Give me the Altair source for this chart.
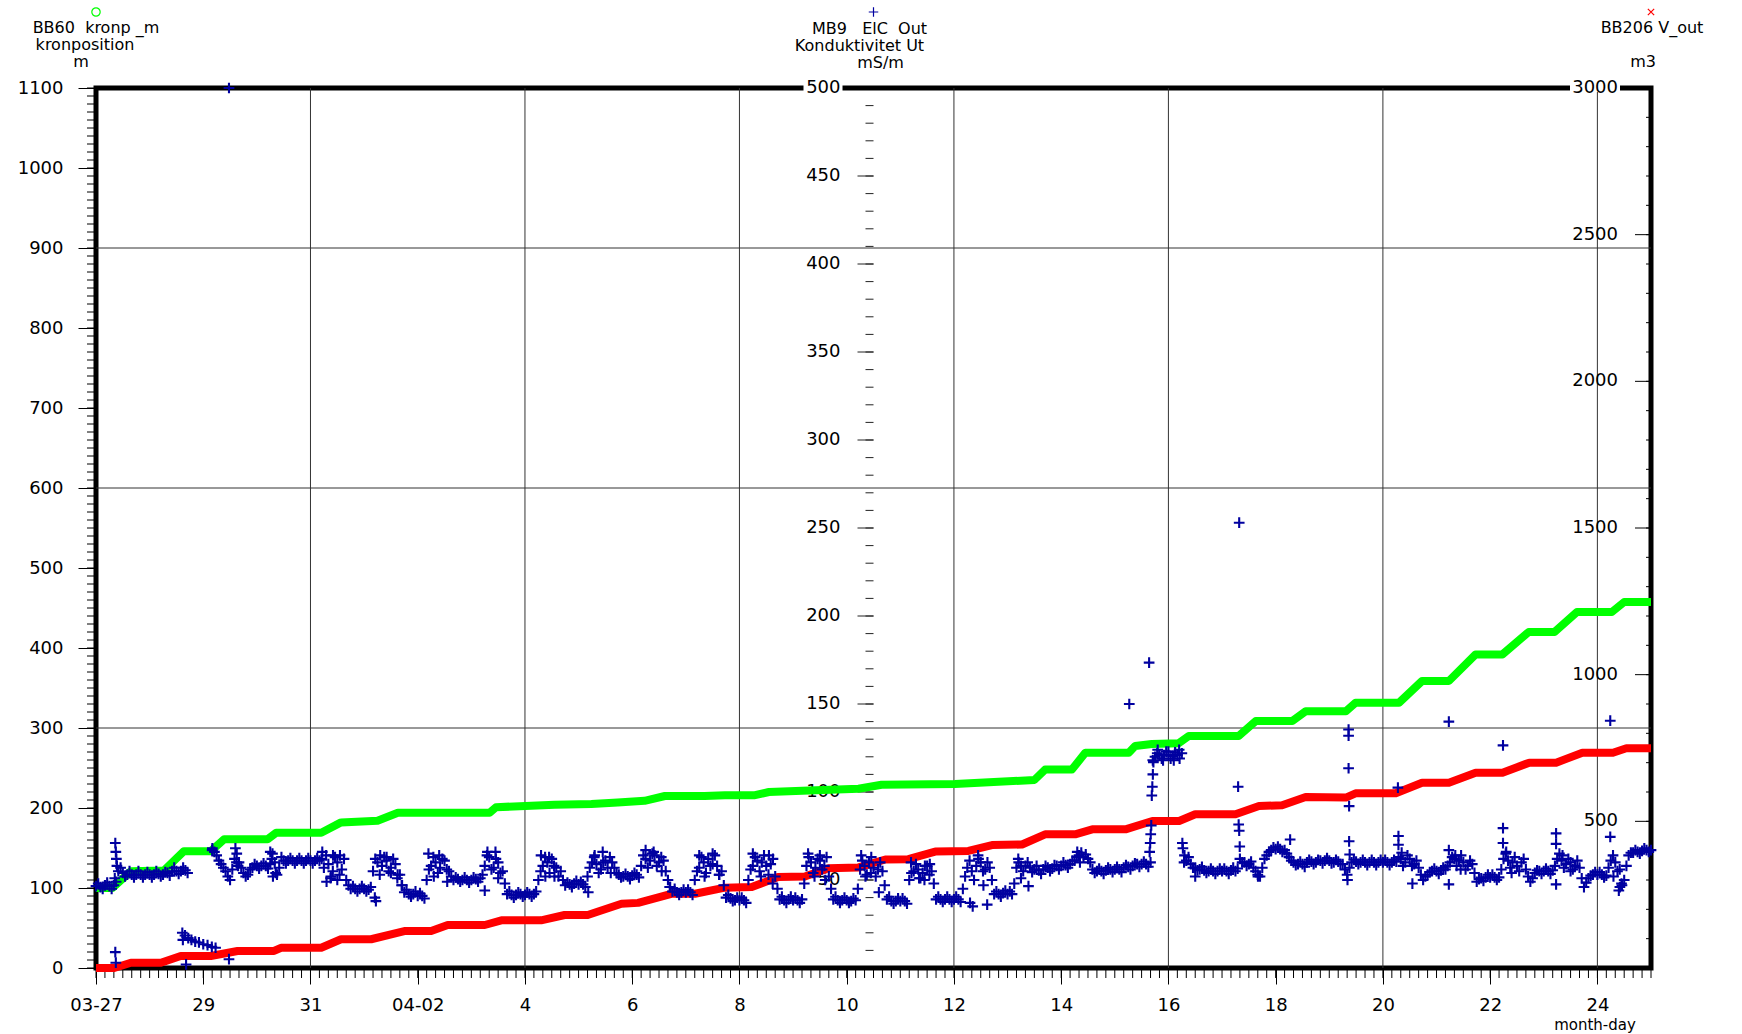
import altair as alt
import pandas as pd

# ---------------------------------------------------------------------------
# Data: time is given in days after 27 March 00:00 (x axis runs to 25 April)
# ---------------------------------------------------------------------------

# BB60 kronp_m  -  crown position, m (left axis)
green_day = [0, 0.305, 0.65, 1.27, 1.64, 2.14, 2.39, 3.2, 3.36, 4.2, 4.57, 5.25,
             5.63, 7.34, 7.46, 8.55, 9.24, 9.73, 10.23, 10.61, 11.35, 11.73,
             12.29, 12.55, 13.3, 14.22, 14.65, 16.02, 17.5, 17.7, 18.2, 18.45,
             19.26, 19.38, 19.69, 20.19, 20.38, 21.31, 21.63, 22.31, 22.56,
             23.31, 23.49, 24.3, 24.73, 25.23, 25.73, 26.23, 26.72, 27.2,
             27.62, 28.27, 28.5, 29]
green_m = [100, 100, 121, 122, 146, 146, 161, 161, 169, 169, 182, 184,
           194, 194, 201, 204, 205, 207, 209, 215, 215, 216,
           216, 220, 222, 224, 229, 230, 235, 248, 248, 269,
           269, 277.5, 280, 281, 290, 290, 308.75, 308.75, 321,
           321, 331.6, 331.6, 358.75, 358.75, 392, 392, 420, 420,
           445, 445, 457.5, 457.5]

# BB206 V_out  -  volume, m3 (right axis)
red_day = [0, 0.34, 0.65, 1.21, 1.58, 2.14, 2.64, 3.32, 3.45, 4.2, 4.57, 5.13,
           5.75, 6.25, 6.56, 7.25, 7.56, 8.3, 8.74, 9.17, 9.8, 10.11, 10.73,
           11.17, 11.73, 12.23, 12.72, 13.22, 13.66, 14.22, 14.72, 15.15,
           15.65, 16.27, 16.71, 17.27, 17.7, 18.26, 18.58, 19.2, 19.7, 20.2,
           20.5, 21.25, 21.69, 22.12, 22.56, 23.31, 23.49, 24.24, 24.73,
           25.23, 25.73, 26.23, 26.73, 27.23, 27.72, 28.29, 28.54, 29]
red_m3 = [0, 0, 18, 18, 41, 41, 58, 58, 69, 69, 98, 98,
          126, 126, 146.6, 146.6, 162.5, 162.5, 180.7, 180.7, 219, 222, 253,
          253, 274, 276, 310, 312, 340, 343, 370, 371,
          397, 399, 419, 421, 455.7, 455.7, 472.8, 472.8, 501, 501,
          524, 524, 552, 555, 583, 581, 595.5, 595.5, 631.8,
          631.8, 666, 666, 700, 700, 734, 734, 749, 749]

# MB9 ElC Out  -  conductivity, mS/m (centre axis); hourly readings,
# one list per week (24 per day), None where nothing was logged
cond_week1 = [
    # 27 March
    46.5, 48, 46, 45, 47, 48.5, 46.5, 45, 47, 49, 55, 57,
    54, 52, 53, 55, 53, 51.5, 53, 55, 53, 51.5, 53, 54.5,
    # 28 March
    53, 51.5, 53, 55, 53.5, 52, 53, 54.5, 54, 52.5, 55, 57,
    55, 53.5, 55, 57, 55.5, 54, None, None, None, None, None, None,
    # 29 March
    None, None, None, None, 67, 66, 64, 61, 59, 57, 55, 52,
    50, 56, 62, 65, 60, 57, 54, 52, 53, 56, 57, 59,
    # 30 March
    58, 56.5, 58, 59.5, 58, 56.5, 59, 65, 60, 53, 57, 63,
    61, 59.5, 61, 62.5, 61, 59.5, 61, 62.5, 61, 59.5, 61, 62.5,
    # 31 March
    61, 59.5, 61, 62.5, 61, 62, 57, 64, 59, 51, 55, 63,
    60, 53, 56, 62, 50, 47, 45, 46.5, 45, 43.5, 45, 46.5,
    # 1 April
    45, 43.5, 44.5, 46, 55, 62, 60, 53, 58, 63, 61, 55,
    57, 62, 59, 53, 53, 47, 43, 44.5, 42, 40.5, 42, 43.5,
    # 2 April
    41, 42.5, 41, 39.5, 50, 56, 58, 63, 60, 54, 57, 62,
    61, 56, 55, 52, 50, 51.5, 50.5, 49, 50, 51.5, 50, 48.5,
]
cond_week2 = [
    # 3 April
    50, 51.5, 50.5, 49, 51, 53, 58, 64, 63, 56, 57, 62,
    60, 54, 55, 48, 42, 43.5, 41.5, 40, 41.5, 43, 42, 40.5,
    # 4 April
    41.5, 43, 42, 40.5, 42, 43.5, 50, 55, 58, 63, 60, 54,
    62, 58, 57, 52, 55, 50, 47, 48.5, 47.5, 46, 48, 49.5,
    # 5 April
    47.5, 49, 47.5, 46, 52, 57, 60, 63, 59, 54, 56, 60,
    61, 57, 63, 60, 57, 54, 53, 51.5, 52, 53.5, 52, 50.5,
    # 6 April
    52.5, 54, 53, 51.5, 58, 64, 62, 57, 61, 65, 64, 58,
    60, 63, 61, 55, 50, 46, 43.5, 45, 43, 41.5, 43, 44.5,
    # 7 April
    43, 44.5, 43, 41.5, 50, 55, 57, 63, 60, 54, 62, 58,
    59, 64, 58, 53, 55, 47, 40, 41.5, 39.5, 38, 38.5, 40,
    # 8 April
    38.5, 40, 38.5, 37, 50, 56, 58, 63, 61, 55, 60, 64,
    58, 53, 59, 62, 52, 45, 39, 40.5, 38.5, 37, 39, 40.5,
    # 9 April
    38.5, 40, 38.5, 37, 39, 48, 58, 63, 60, 54, 57, 62,
    61, 56, 58, 63, 52, 45, 39, 40.5, 38.5, 37, 38.5, 40,
]
cond_week3 = [
    # 10 April
    38.5, 37, 38, 39.5, 38.5, 45, 56, 61, 58, 53, 60, 63,
    57, 52, 56, 60, 55, 47, 39, 40.5, 38, 36.5, 38, 39.5,
    # 11 April
    38, 39.5, 38, 36.5, 50, 54, 55, 59, 56, 51, 54, 58,
    58, 53, 55, 48, 39, 40.5, 39, 37.5, 39, 40.5, 39, 37.5,
    # 12 April
    39, 40.5, 39, 37.5, 45, 52, 57, 61, 55, 50, 58, 62,
    60, 55, 56, 60, 57, 50, 42, 43.5, 42, 40.5, 42.5, 44,
    # 13 April
    42, 43.5, 42, 48, 57, 60, 58, 55, 58, 60, 57, 54.5,
    56, 58, 55.5, 53.5, 56, 58, 57, 55, 56.5, 58.5, 58, 56,
    # 14 April
    58, 60, 58.5, 57, 59, 61, 61, 63, 64, 65.5, 63, 64.5,
    62, 60, 56, 54, 55, 56.5, 55, 53.5, 55.5, 57, 56, 54.5,
    # 15 April
    56, 57.5, 56, 54.5, 57, 58.5, 57.5, 56, 58, 59.5, 59, 57.5,
    59, 60.5, 59, 57.5, 60, 118, 120, 122, 121, 119, 121, 123,
    # 16 April
    121, 119, 120.5, 122.5, 121, 119, 122, 60, 61, 63, 59, 57,
    57, 55.5, 56, 57.5, 55.5, 54, 55, 56.5, 55, 53.5, 55, 56.5,
]
cond_week4 = [
    # 17 April
    55, 56.5, 55, 53.5, 55.5, 57, 55, 56.5, 62, 60, 60, 58,
    59, 60.5, 57, 55, 53, 52, 57, 62, 64, 66, 67, 68.5,
    # 18 April
    67.5, 69, 67.5, 66, 67, 65, 63, 61, 60, 58.5, 59, 60.5,
    59, 57.5, 60, 61.5, 60.5, 59, 60, 61.5, 61, 59.5, 61, 62.5,
    # 19 April
    61, 59.5, 60, 61.5, 60.5, 59, 59, 56, 53, 57, 60, 61.5,
    60.5, 59, 60, 61.5, 60, 58.5, 60, 61.5, 60, 58.5, 60, 61.5,
    # 20 April
    60, 61.5, 60, 58.5, 60, 61.5, 60.5, 63, 62, 58, 60, 64,
    62, 58, 59, 61, 57, 53, 50, 52, 53, 54.5, 55, 56.5,
    # 21 April
    55, 53.5, 55.5, 57, 56, 58, 60, 63, 62, 58, 61, 64,
    60, 56, 58, 61, 59, 54, 49, 50.5, 51, 49.5, 51.5, 53,
    # 22 April
    51.5, 53, 51.5, 50, 51.5, 56, 62, 65, 61, 57, 60, 63,
    58, 55, 60, 62, 56, 52, 49, 51, 54, 55.5, 55, 53.5,
    # 23 April
    55, 56.5, 55, 53.5, 55.5, 58, 62, 65, 61, 57, 59, 62,
    60, 56, 58, 61, 57, 51, 46, 48.5, 51, 52.5, 53, 54.5,
    # 24 April
    53, 54.5, 53, 51.5, 52.5, 57, 61, 64, 60, 55, 56, 47,
    50, 58, 64, 65.5, 65.5, 67, 66, 65, 66.5, 68, 67, 66,
]
cond_last = 67  # reading at 25 April 00:00

# Irregular conductivity readings: spikes, the low run on 28-29 March, outliers
cond_extra_day = [
    0.35, 0.36, 0.37, 0.38, 0.39, 0.36, 0.37,
    1.61, 1.62, 1.66, 1.72, 1.78, 1.85, 1.92, 2.0, 2.08, 2.16, 2.23,
    1.68, 2.48, 2.48,
    2.17, 2.6, 2.62, 2.65,
    3.25, 3.28, 3.3, 3.35,
    4.22, 4.3, 4.38, 4.42, 4.5, 4.55,
    5.2, 5.22, 5.3, 5.42, 5.5, 5.62, 5.7,
    6.2, 6.3, 6.4, 6.55,
    7.25, 7.3, 7.45, 7.5,
    8.3, 8.38, 8.45, 8.55,
    9.18, 9.3, 9.45, 9.6,
    10.25, 10.4, 10.55, 10.7,
    11.25, 11.35, 11.5, 11.62,
    12.25, 12.4, 12.55, 12.62,
    13.28, 13.4, 13.5, 13.6,
    14.27, 14.35, 14.45, 14.6,
    15.2, 15.35, 15.45, 15.55,
    16.3, 16.35, 16.45, 16.55, 16.62,
    17.2, 17.25, 17.39,
    18.3, 18.35,
    19.27, 19.64,
    19.65, 19.66, 19.67, 19.68, 19.69, 19.7, 19.71, 19.72,
    19.8, 19.9, 20.0, 20.1, 20.2,
    20.26, 20.27, 20.3, 20.5,
    21.3, 21.31, 21.32, 21.33, 21.32, 21.67,
    22.27,
    23.34, 23.36, 23.36, 23.36, 23.37, 23.37, 23.38,
    24.28, 24.29, 24.29, 24.35, 24.55,
    25.23, 25.23, 25.23, 25.35, 25.45,
    26.24, 26.24, 26.24, 26.3, 26.4,
    27.23, 27.23, 27.23, 27.35, 27.5,
    28.24, 28.24, 28.3, 28.4, 28.42, 28.45,
]
cond_extra_val = [
    51, 71, 66, 62, 58, 9, 3,
    20, 16, 18.5, 17, 16, 15, 14.5, 13.5, 13, 12, 11.5,
    2, 5, 500,
    68, 68, 60, 58,
    66, 62, 52, 54,
    66, 49, 52, 64, 50, 64,
    40, 38, 64, 63, 54, 51, 47,
    65, 52, 64, 49,
    44, 66, 66, 51,
    64, 52, 63, 52,
    43, 64, 66, 54,
    67, 66, 55, 46,
    64, 52, 65, 53,
    65, 52, 64, 48,
    65, 52, 64, 50,
    64, 52, 54, 43,
    60, 51, 50, 59,
    37, 35, 64, 47, 36,
    62, 51, 46.5,
    66, 60,
    150, 173.5,
    66, 71, 76, 81, 98, 103, 110, 117,
    124, 118, 123, 118, 124,
    71, 68, 64, 52,
    103, 81.5, 78, 69, 253, 52,
    73,
    50, 135.5, 132, 113.5, 92, 72, 64.5,
    102.5, 75, 70, 65.5, 48,
    140, 67, 47.5, 64, 56,
    126.5, 79.5, 71, 66, 54,
    76.5, 70.5, 47.5, 64, 55,
    140.5, 74.5, 52, 44, 46, 48,
]

# Axis tick values and labels
x_tick_days = list(range(0, 29, 2))
x_tick_labels = ["03-27", "29", "31", "04-02", "4", "6", "8", "10", "12",
                 "14", "16", "18", "20", "22", "24"]
x_grid_days = [4, 8, 12, 16, 20, 24, 28]
left_grid_m = [300, 600, 900]
left_labels = list(range(0, 1101, 100))
mid_labels = list(range(50, 501, 50))
right_labels = list(range(500, 3001, 500))

# ---------------------------------------------------------------------------
# Tables
# ---------------------------------------------------------------------------
green_df = pd.DataFrame({"day": green_day, "m": green_m})
red_df = pd.DataFrame({"day": red_day, "m3": red_m3})

rows = []
for week, vals in enumerate([cond_week1, cond_week2, cond_week3, cond_week4]):
    for i, v in enumerate(vals):
        if v is not None:
            rows.append({"day": 7 * week + i / 24, "ms": v})
rows.append({"day": 29, "ms": cond_last})
for d, v in zip(cond_extra_day, cond_extra_val):
    rows.append({"day": d, "ms": v})
cond_df = pd.DataFrame(rows)

one = pd.DataFrame({"k": [0]})

# ---------------------------------------------------------------------------
# Geometry and styles
# ---------------------------------------------------------------------------
W, H = 1555, 880
MID = W / 2
FONT = "DejaVu Sans"
FS = 18          # tick labels
FS_HEAD = 16     # series headers
GREEN, RED, BLUE = "#00ff00", "#ff0000", "#0000a0"
PLUS = "M-1,0L1,0M0,-1L0,1"
CROSS = "M-1,-1L1,1M-1,1L1,-1"

xs = alt.Scale(domain=[0, 29], nice=False, zero=False)
ys_left = alt.Scale(domain=[0, 1100], nice=False, zero=False)
ys_mid = alt.Scale(domain=[0, 500], nice=False, zero=False)
ys_right = alt.Scale(domain=[0, 3000], nice=False, zero=False)

label_expr = "[" + ",".join(f"'{s}'" for s in x_tick_labels) + "][round(datum.value / 2)]"
x_axis = alt.Axis(values=x_tick_days, labelExpr=label_expr, tickSize=16,
                  tickColor="black", tickWidth=1, labelPadding=26,
                  labelBaseline="alphabetic", labelFont=FONT, labelFontSize=FS,
                  labelColor="black", labelFlush=False, labelOverlap=False,
                  domain=False, grid=False, title=None)
left_axis = alt.Axis(orient="left", values=left_labels, format="d", tickSize=18,
                     tickColor="black", tickWidth=1, labelPadding=15,
                     labelFont=FONT, labelFontSize=FS, labelColor="black",
                     labelOverlap=False, domain=False, grid=False, title=None)


def xq():
    return alt.X("day:Q", scale=xs, axis=x_axis)


# Grid
grid_v = alt.Chart(pd.DataFrame({"day": x_grid_days})).mark_rule(
    color="#333333", strokeWidth=1).encode(x=xq(), y=alt.value(0), y2=alt.value(H))
grid_h = alt.Chart(pd.DataFrame({"m": left_grid_m})).mark_rule(
    color="#333333", strokeWidth=1).encode(
    y=alt.Y("m:Q", scale=ys_left, axis=None), x=alt.value(0), x2=alt.value(W))

# Minor ticks: every 4 hours on x, every 10 m on the left
x_minor = alt.Chart(pd.DataFrame({"day": [i / 6 for i in range(29 * 6 + 1)]})).mark_rule(
    color="black", strokeWidth=1).encode(x=xq(), y=alt.value(H), y2=alt.value(H + 10))
left_minor = alt.Chart(pd.DataFrame({"m": list(range(0, 1101, 10))})).mark_rule(
    color="black", strokeWidth=1).encode(
    y=alt.Y("m:Q", scale=ys_left, axis=None), x=alt.value(-9), x2=alt.value(0))

# Centre axis (mS/m)
mid_minor = alt.Chart(pd.DataFrame({"ms": list(range(10, 500, 10))})).mark_rule(
    color="#222222", strokeWidth=1).encode(
    y=alt.Y("ms:Q", scale=ys_mid, axis=None), x=alt.value(MID - 8), x2=alt.value(MID))
mid_major = alt.Chart(pd.DataFrame({"ms": mid_labels[:-1]})).mark_rule(
    color="#222222", strokeWidth=1).encode(
    y=alt.Y("ms:Q", scale=ys_mid, axis=None), x=alt.value(MID - 16), x2=alt.value(MID))
mid_gap = alt.Chart(one).mark_rect(color="white").encode(
    x=alt.value(MID - 70), x2=alt.value(MID - 31), y=alt.value(-4), y2=alt.value(4))
mid_text = alt.Chart(pd.DataFrame({"ms": mid_labels})).mark_text(
    align="right", baseline="middle", font=FONT, fontSize=FS, color="black").encode(
    y=alt.Y("ms:Q", scale=ys_mid, axis=None), x=alt.value(MID - 33), text="ms:Q")

# Right axis (m3), drawn inside the frame
right_minor = alt.Chart(pd.DataFrame({"m3": list(range(100, 3000, 100))})).mark_rule(
    color="black", strokeWidth=1).encode(
    y=alt.Y("m3:Q", scale=ys_right, axis=None), x=alt.value(W - 5), x2=alt.value(W))
right_major = alt.Chart(pd.DataFrame({"m3": right_labels[:-1]})).mark_rule(
    color="black", strokeWidth=1).encode(
    y=alt.Y("m3:Q", scale=ys_right, axis=None), x=alt.value(W - 16), x2=alt.value(W))
right_gap = alt.Chart(one).mark_rect(color="white").encode(
    x=alt.value(W - 81), x2=alt.value(W - 31), y=alt.value(-4), y2=alt.value(4))
right_text = alt.Chart(pd.DataFrame({"m3": right_labels})).mark_text(
    align="right", baseline="middle", font=FONT, fontSize=FS, color="black").encode(
    y=alt.Y("m3:Q", scale=ys_right, axis=None), x=alt.value(W - 33), text="m3:Q")

# Series
green = alt.Chart(green_df).mark_line(
    color=GREEN, strokeWidth=8, strokeJoin="round").encode(
    x=xq(), y=alt.Y("m:Q", scale=ys_left, axis=left_axis))
red = alt.Chart(red_df).mark_line(
    color=RED, strokeWidth=8, strokeJoin="round").encode(
    x=xq(), y=alt.Y("m3:Q", scale=ys_right, axis=None))
blue = alt.Chart(cond_df).mark_point(
    shape=PLUS, filled=False, size=115, strokeWidth=2.1, color=BLUE, opacity=1).encode(
    x=xq(), y=alt.Y("ms:Q", scale=ys_mid, axis=None))


# Series headers above the frame
def label(text, x, y, size=FS_HEAD):
    return alt.Chart(one).mark_text(
        text=text, align="center", baseline="alphabetic", font=FONT, fontSize=size,
        color="black").encode(x=alt.value(x), y=alt.value(y))


def symbol(shape, color, x, size):
    return alt.Chart(one).mark_point(
        shape=shape, filled=False, size=size, strokeWidth=1.2, color=color,
        opacity=1).encode(x=alt.value(x), y=alt.value(-76))


headers = [
    symbol("circle", GREEN, 0, 70),
    label("BB60\u00a0\u00a0kronp _m", 0, -55),
    label("kronposition", -11, -38),
    label("m", -15, -21),
    symbol(PLUS, BLUE, MID, 90),
    label("MB9\u00a0\u00a0\u00a0ElC\u00a0\u00a0Out", MID - 4, -54),
    label("Konduktivitet Ut", MID - 14, -37),
    label("mS/m", MID + 7, -20),
    symbol(CROSS, RED, W, 40),
    label("BB206 V_out", W + 1, -55),
    label("m3", W - 8, -21),
    label("month-day", W - 56, H + 62, 15),
]

chart = alt.layer(
    grid_v, grid_h, x_minor, left_minor,
    mid_minor, mid_major, mid_gap, mid_text,
    right_minor, right_major, right_gap, right_text,
    green, red, blue, *headers,
).resolve_scale(y="independent").properties(
    width=W, height=H,
    padding={"left": 96, "top": 88, "right": 91, "bottom": 66},
    autosize=alt.AutoSizeParams(type="none"),
).configure(background="white").configure_view(stroke="black", strokeWidth=5)

chart.save("out.html", embed_options={"renderer": "svg", "actions": False})
